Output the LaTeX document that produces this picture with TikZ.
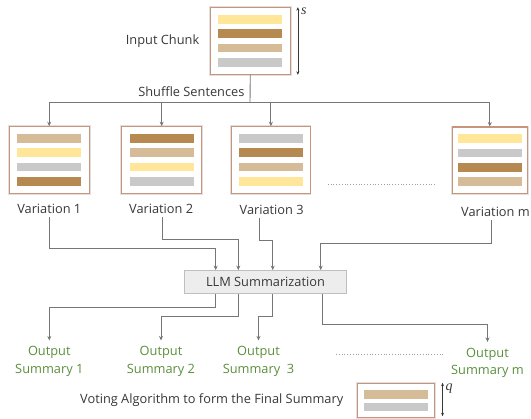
\documentclass[tikz,border=0pt]{standalone}
\usepackage{fontspec}
\setmainfont{Open Sans}
\newfontfamily\varfont{Liberation Serif}
\usetikzlibrary{arrows.meta,positioning,calc}

\definecolor{barYellow}{HTML}{FFE699}
\definecolor{barBrown}{HTML}{B5894F}
\definecolor{barTan}{HTML}{D6BB99}
\definecolor{barGray}{HTML}{C9C9C9}
\definecolor{chunkEdge}{HTML}{C8957A}
\definecolor{lineGray}{HTML}{767676}
\definecolor{textGray}{HTML}{383838}
\definecolor{outGreen}{HTML}{5A8F3C}
\definecolor{llmFill}{HTML}{EDEDED}
\definecolor{llmEdge}{HTML}{BFBFBF}

% coloured sentence bars inside a chunk: node, first offset, step, colours
\newcommand{\chunkbars}[4]{%
  \foreach \c [count=\i] in {#4}
    \node[bar, fill=\c] at ($(#1)+(0,{#2+(\i-1)*#3})$) {};}

\begin{document}
\begin{tikzpicture}[x=1pt,y=-1pt,
  txt/.style={text=textGray, font=\fontsize{12.8}{15}\selectfont},
  outlbl/.style={text=outGreen, align=center, inner sep=0pt,
    font=\fontsize{12.8}{17.3}\selectfont},
  sym/.style={anchor=north west, inner sep=0pt, text=textGray,
    font=\varfont\itshape\fontsize{14}{15}\selectfont},
  chunk/.style={draw=chunkEdge, line width=1.1pt, fill=white,
    preaction={draw=black!12, line width=2.6pt},
    minimum width=80pt, minimum height=66.5pt, inner sep=0pt},
  bar/.style={minimum width=64pt, minimum height=8.7pt, inner sep=0pt},
  flow/.style={draw=lineGray, line width=0.9pt,
    -{Stealth[length=4.5pt,width=4pt]}},
  plain/.style={draw=lineGray, line width=0.9pt},
  dim/.style={draw=textGray, line width=0.7pt,
    {Stealth[length=3.5pt,width=3pt]}-{Stealth[length=3.5pt,width=3pt]}},
  dots/.style={draw=lineGray!70, line width=0.8pt, dotted}]

  \useasboundingbox (0,0) rectangle (531,419);

  % input chunk
  \node[chunk] (in) at (250.3,41) {};
  \chunkbars{in}{-21.7}{14.4}{barYellow,barBrown,barTan,barGray}
  \node[txt, left=7pt of in] (inlbl) {Input Chunk};
  \draw[dim] ([xshift=7pt]in.north east) -- ([xshift=7pt]in.south east);
  \node[sym] at ([xshift=10pt,yshift=-1pt]in.north east) {s};

  % shuffle into variations
  \node[chunk] (v1) at (49.2,160) {};
  \node[chunk] (v2) at (161.7,160) {};
  \node[chunk, minimum width=78.3pt] (v3) at (270.9,160) {};
  \node[chunk, minimum width=75pt] (vm) at (489.8,160.3) {};
  \chunkbars{v1}{-21.7}{14.4}{barTan,barYellow,barGray,barBrown}
  \chunkbars{v2}{-21.7}{14.4}{barBrown,barTan,barYellow,barGray}
  \chunkbars{v3}{-21.7}{14.4}{barGray,barBrown,barTan,barYellow}
  \chunkbars{vm}{-21.7}{14.4}{barYellow,barGray,barBrown,barTan}

  \coordinate (split) at (250,102.3);
  \draw[plain] (in.south) -- (split);
  \draw[plain] (v1.north |- split) -- (vm.north |- split);
  \foreach \v in {v1,v2,v3,vm}
    \draw[flow] (\v.north |- split) -- (\v.north);
  \node[txt, anchor=east] (shuf) at (248,91.5) {Shuffle Sentences};

  \node[txt] (l1) at (49.3,209) {Variation 1};
  \node[txt] (l2) at (161.2,209) {Variation 2};
  \node[txt] (l3) at (271.7,210) {Variation 3};
  \node[txt] (lm) at (495.5,211.5) {Variation m};
  \draw[dots] (327.7,184) -- (435,184);

  % summarization
  \node[draw=llmEdge, fill=llmFill, line width=1pt, txt,
    minimum width=162pt, minimum height=23.3pt] (llm) at (265.5,282.3) {LLM Summarization};

  \draw[flow] (l1.south) -- ++(0,31) -| ([xshift=-49.8pt]llm.north);
  \draw[flow] ([xshift=1pt]l2.south) -- ++(0,22) -| ([xshift=-27.2pt]llm.north);
  \draw[flow] ([xshift=-12.4pt]l3.south) -- ++(0,22) -| ([xshift=7.2pt]llm.north);
  \draw[flow] ([xshift=-4.5pt]lm.south) -- ++(0,24) -| ([xshift=55.2pt]llm.north);

  % output summaries
  \node[outlbl] (o1) at (49.3,361.5) {Output\\Summary 1};
  \node[outlbl] (o2) at (161,361.5) {Output\\Summary 2};
  \node[outlbl] (o3) at (258.5,361.5) {Output\\Summary\ \ 3};
  \node[outlbl] (om) at (487.5,363) {Output\\Summary m};

  \draw[flow] ([xshift=-49.8pt]llm.south) -- ++(0,13.3) -| ([yshift=6pt]o1.north);
  \draw[flow] ([xshift=-27.2pt]llm.south) -- ++(0,22.5) -| ([yshift=6pt]o2.north);
  \draw[flow] ([xshift=7.2pt]llm.south) -- ++(0,22.5) -| ([yshift=6pt]o3.north);
  \draw[flow] ([xshift=57.2pt]llm.south) -- ++(0,30) -| ([yshift=6pt]om.north);
  \draw[dots] (336,354.3) -- (442.7,354.3);

  % final summary
  \node[chunk, minimum width=77pt, minimum height=34.4pt] (fin) at (395.8,400.5) {};
  \chunkbars{fin}{-6.3}{12.7}{barTan,barGray}
  \node[txt, left=10pt of fin] (vote) {Voting Algorithm to form the Final Summary};
  \draw[dim] ([xshift=7.7pt]fin.north east) -- ([xshift=7.7pt,yshift=2pt]fin.south east);
  \node[sym] at ([xshift=10.5pt,yshift=-0.5pt]fin.north east) {q};
\end{tikzpicture}
\end{document}
